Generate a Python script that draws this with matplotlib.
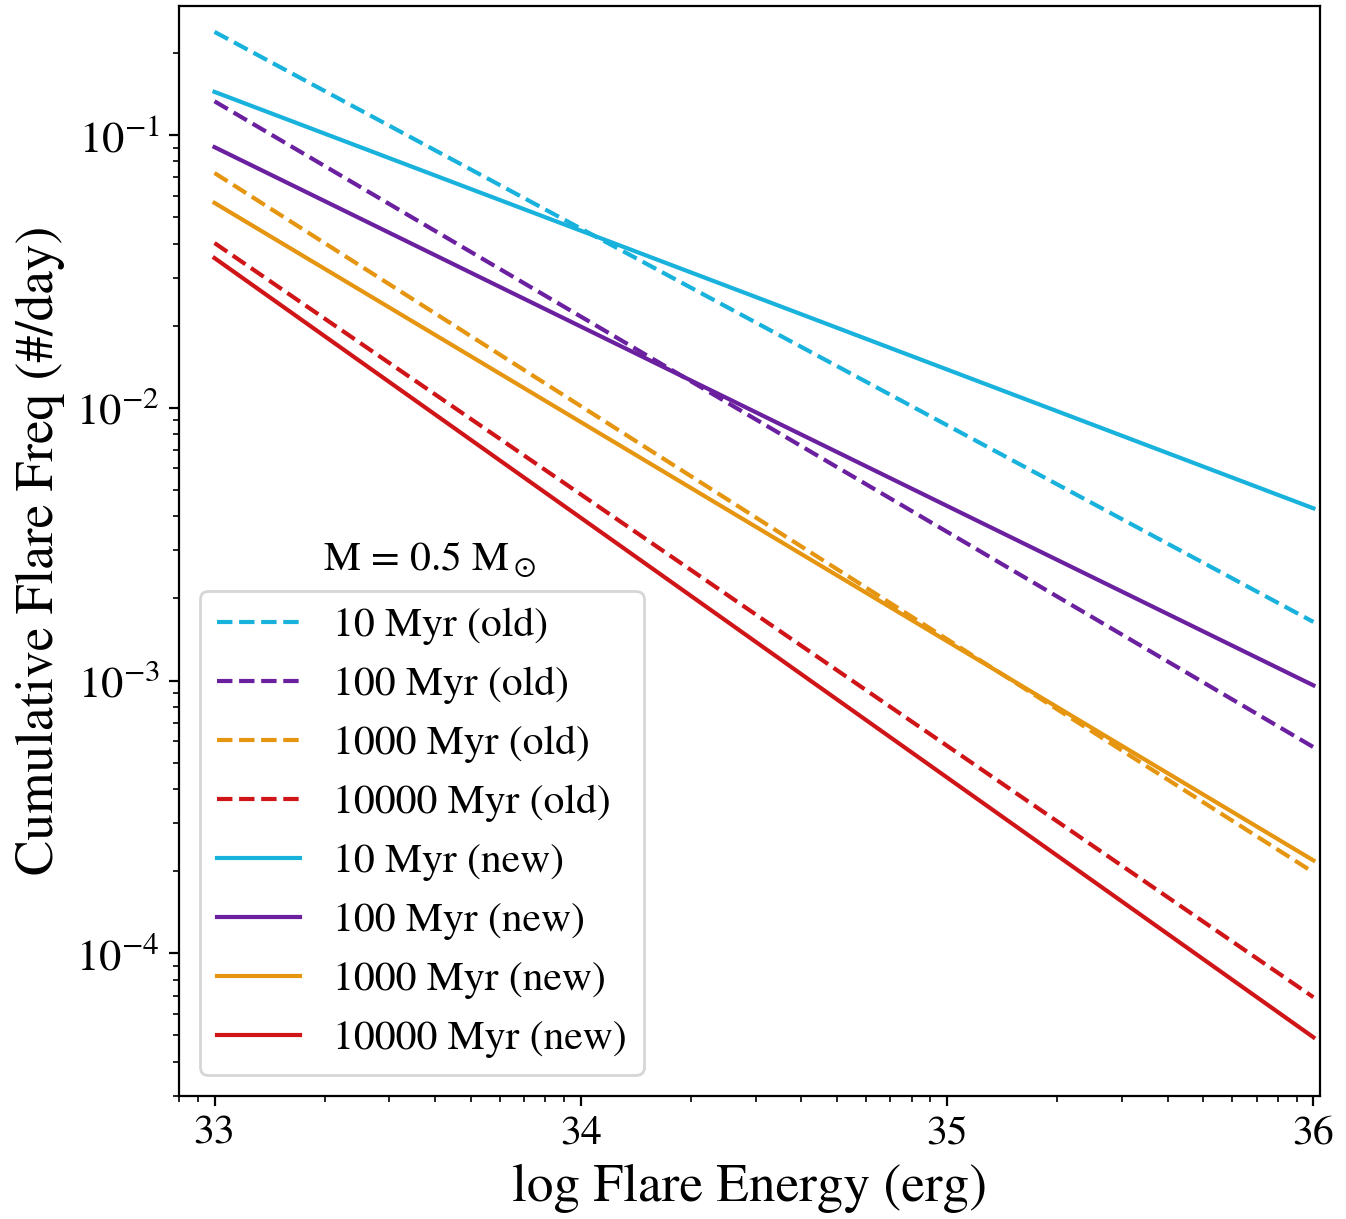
import numpy as np
import matplotlib
matplotlib.use("Agg")
import matplotlib.pyplot as plt
from matplotlib.ticker import FuncFormatter, NullFormatter

plt.rcParams['font.family'] = ['STIXGeneral', 'DejaVu Serif']
plt.rcParams['mathtext.fontset'] = 'stix'

# flare energy end points (erg) and cumulative frequencies (#/day)
energy = [1e33, 1e36]
ages = ['10', '100', '1000', '10000']
colors = ['#18b2dc', '#6a209f', '#e5950f', '#d01518']

freq_old = {
    '10': [0.239, 1.64e-3],
    '100': [0.133, 5.7e-4],
    '1000': [0.0726, 1.98e-4],
    '10000': [0.0402, 6.9e-5],
}
freq_new = {
    '10': [0.144, 4.28e-3],
    '100': [0.0903, 9.6e-4],
    '1000': [0.0564, 2.19e-4],
    '10000': [0.0354, 4.92e-5],
}


def main():
    fig, ax = plt.subplots(figsize=(6.73, 6.095), dpi=200)
    fig.subplots_adjust(left=0.133, right=0.981, bottom=0.101, top=0.9953)

    for age, c in zip(ages, colors):
        ax.plot(energy, freq_old[age], ls='--', color=c, lw=1.5, label=f'{age} Myr (old)')
    for age, c in zip(ages, colors):
        ax.plot(energy, freq_new[age], ls='-', color=c, lw=1.5, label=f'{age} Myr (new)')

    ax.set_xscale('log')
    ax.set_yscale('log')
    ax.set_xlim(8e32, 1.045e36)
    ax.set_ylim(3e-5, 0.298)

    # label the energy axis by its exponent
    ax.xaxis.set_major_formatter(FuncFormatter(lambda v, p: f'{np.log10(v):.0f}'))
    ax.xaxis.set_minor_formatter(NullFormatter())
    ax.tick_params(axis='x', labelsize=15)
    ax.tick_params(axis='y', labelsize=16)

    ax.set_xlabel('log Flare Energy (erg)', fontsize=19.2)
    ax.set_ylabel('Cumulative Flare Freq (#/day)', fontsize=19.2)

    ax.legend(loc='lower left', fontsize=15)
    ax.text(0.22, 0.4916, r'M = 0.5 M$_\odot$', transform=ax.transAxes,
            ha='center', va='center', fontsize=15)

    fig.savefig('out.png', dpi=200)


if __name__ == "__main__":
    main()
